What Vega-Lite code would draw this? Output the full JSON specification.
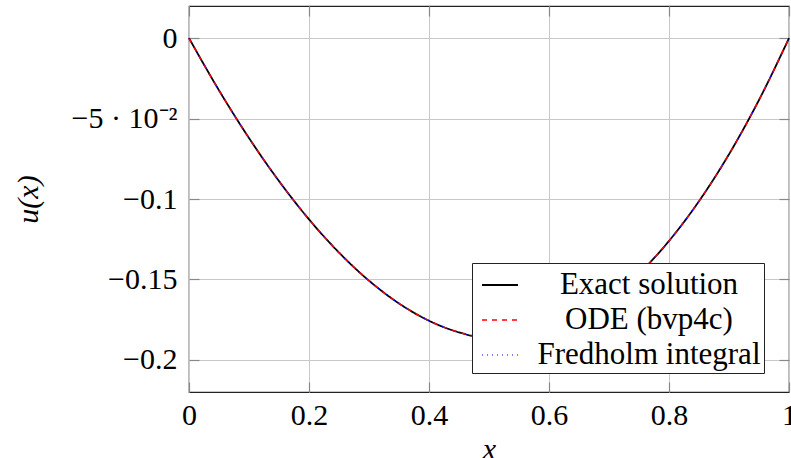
{
  "$schema": "https://vega.github.io/schema/vega-lite/v6.json",
  "width": 600,
  "height": 386,
  "autosize": {"type": "none"},
  "padding": {"left": 189, "top": 6, "right": 2, "bottom": 66},
  "background": "white",
  "config": {
    "view": {"stroke": "#222222", "strokeWidth": 1.2},
    "font": "Liberation Serif"
  },
  "data": {
    "values": [
      {"x": 0, "u": 0, "s": "Exact solution"},
      {"x": 0.05, "u": -0.03244, "s": "Exact solution"},
      {"x": 0.1, "u": -0.0621, "s": "Exact solution"},
      {"x": 0.15, "u": -0.08887, "s": "Exact solution"},
      {"x": 0.2, "u": -0.11264, "s": "Exact solution"},
      {"x": 0.25, "u": -0.13331, "s": "Exact solution"},
      {"x": 0.3, "u": -0.15078, "s": "Exact solution"},
      {"x": 0.35, "u": -0.16494, "s": "Exact solution"},
      {"x": 0.4, "u": -0.17568, "s": "Exact solution"},
      {"x": 0.45, "u": -0.1829, "s": "Exact solution"},
      {"x": 0.5, "u": -0.1865, "s": "Exact solution"},
      {"x": 0.55, "u": -0.18637, "s": "Exact solution"},
      {"x": 0.6, "u": -0.1824, "s": "Exact solution"},
      {"x": 0.65, "u": -0.17449, "s": "Exact solution"},
      {"x": 0.7, "u": -0.16254, "s": "Exact solution"},
      {"x": 0.75, "u": -0.14644, "s": "Exact solution"},
      {"x": 0.8, "u": -0.12608, "s": "Exact solution"},
      {"x": 0.85, "u": -0.10136, "s": "Exact solution"},
      {"x": 0.9, "u": -0.07218, "s": "Exact solution"},
      {"x": 0.95, "u": -0.03843, "s": "Exact solution"},
      {"x": 1, "u": 0, "s": "Exact solution"},
      {"x": 0, "u": 0, "s": "ODE (bvp4c)"},
      {"x": 0.05, "u": -0.03244, "s": "ODE (bvp4c)"},
      {"x": 0.1, "u": -0.0621, "s": "ODE (bvp4c)"},
      {"x": 0.15, "u": -0.08887, "s": "ODE (bvp4c)"},
      {"x": 0.2, "u": -0.11264, "s": "ODE (bvp4c)"},
      {"x": 0.25, "u": -0.13331, "s": "ODE (bvp4c)"},
      {"x": 0.3, "u": -0.15078, "s": "ODE (bvp4c)"},
      {"x": 0.35, "u": -0.16494, "s": "ODE (bvp4c)"},
      {"x": 0.4, "u": -0.17568, "s": "ODE (bvp4c)"},
      {"x": 0.45, "u": -0.1829, "s": "ODE (bvp4c)"},
      {"x": 0.5, "u": -0.1865, "s": "ODE (bvp4c)"},
      {"x": 0.55, "u": -0.18637, "s": "ODE (bvp4c)"},
      {"x": 0.6, "u": -0.1824, "s": "ODE (bvp4c)"},
      {"x": 0.65, "u": -0.17449, "s": "ODE (bvp4c)"},
      {"x": 0.7, "u": -0.16254, "s": "ODE (bvp4c)"},
      {"x": 0.75, "u": -0.14644, "s": "ODE (bvp4c)"},
      {"x": 0.8, "u": -0.12608, "s": "ODE (bvp4c)"},
      {"x": 0.85, "u": -0.10136, "s": "ODE (bvp4c)"},
      {"x": 0.9, "u": -0.07218, "s": "ODE (bvp4c)"},
      {"x": 0.95, "u": -0.03843, "s": "ODE (bvp4c)"},
      {"x": 1, "u": 0, "s": "ODE (bvp4c)"},
      {"x": 0, "u": 0, "s": "Fredholm integral"},
      {"x": 0.05, "u": -0.03244, "s": "Fredholm integral"},
      {"x": 0.1, "u": -0.0621, "s": "Fredholm integral"},
      {"x": 0.15, "u": -0.08887, "s": "Fredholm integral"},
      {"x": 0.2, "u": -0.11264, "s": "Fredholm integral"},
      {"x": 0.25, "u": -0.13331, "s": "Fredholm integral"},
      {"x": 0.3, "u": -0.15078, "s": "Fredholm integral"},
      {"x": 0.35, "u": -0.16494, "s": "Fredholm integral"},
      {"x": 0.4, "u": -0.17568, "s": "Fredholm integral"},
      {"x": 0.45, "u": -0.1829, "s": "Fredholm integral"},
      {"x": 0.5, "u": -0.1865, "s": "Fredholm integral"},
      {"x": 0.55, "u": -0.18637, "s": "Fredholm integral"},
      {"x": 0.6, "u": -0.1824, "s": "Fredholm integral"},
      {"x": 0.65, "u": -0.17449, "s": "Fredholm integral"},
      {"x": 0.7, "u": -0.16254, "s": "Fredholm integral"},
      {"x": 0.75, "u": -0.14644, "s": "Fredholm integral"},
      {"x": 0.8, "u": -0.12608, "s": "Fredholm integral"},
      {"x": 0.85, "u": -0.10136, "s": "Fredholm integral"},
      {"x": 0.9, "u": -0.07218, "s": "Fredholm integral"},
      {"x": 0.95, "u": -0.03843, "s": "Fredholm integral"},
      {"x": 1, "u": 0, "s": "Fredholm integral"}
    ]
  },
  "layer": [
    {
      "mark": {"type": "line", "interpolate": "monotone", "opacity": 0},
      "encoding": {
        "x": {
          "field": "x", "type": "quantitative",
          "scale": {"domain": [0, 1], "nice": false, "zero": false},
          "axis": {"orient": "top", "values": [0, 0.2, 0.4, 0.6, 0.8, 1], "labels": false, "title": null, "grid": false, "domain": false, "tickSize": -10, "tickColor": "#888888", "tickWidth": 1.2}
        },
        "y": {
          "field": "u", "type": "quantitative",
          "scale": {"domain": [-0.22, 0.02], "nice": false, "zero": false},
          "axis": {"orient": "right", "values": [0, -0.05, -0.1, -0.15, -0.2], "labels": false, "title": null, "grid": false, "domain": false, "tickSize": -10, "tickColor": "#888888", "tickWidth": 1.2}
        },
        "detail": {"field": "s"}
      }
    },
    {
      "mark": {"type": "line", "interpolate": "monotone"},
      "encoding": {
        "x": {
          "field": "x", "type": "quantitative",
          "scale": {"domain": [0, 1], "nice": false, "zero": false},
          "axis": {
            "orient": "bottom", "values": [0, 0.2, 0.4, 0.6, 0.8, 1], "format": "~g",
            "title": "x", "titleFontStyle": "italic", "titleFontWeight": "normal", "titleFontSize": 30, "titleColor": "black", "titlePadding": 4,
            "labelFontSize": 30, "labelColor": "black", "labelPadding": 18, "labelFlush": false,
            "grid": true, "gridColor": "#c8c8c8", "gridWidth": 1,
            "domain": false, "tickSize": -10, "tickColor": "#888888", "tickWidth": 1.2
          }
        },
        "y": {
          "field": "u", "type": "quantitative",
          "scale": {"domain": [-0.22, 0.02], "nice": false, "zero": false},
          "axis": {
            "orient": "left", "values": [0, -0.05, -0.1, -0.15, -0.2],
            "labelExpr": "abs(datum.value + 0.05) < 1e-9 ? '−5 · 10⁻²' : replace(format(datum.value, '~g'), '-', '−')",
            "title": "u(x)", "titleFontStyle": "italic", "titleFontWeight": "normal", "titleFontSize": 30, "titleColor": "black", "titlePadding": 28,
            "labelFontSize": 30, "labelColor": "black", "labelPadding": 22, "labelFlush": false,
            "grid": true, "gridColor": "#c8c8c8", "gridWidth": 1,
            "domain": false, "tickSize": -10, "tickColor": "#888888", "tickWidth": 1.2
          }
        },
        "color": {
          "field": "s", "type": "nominal",
          "scale": {"domain": ["Exact solution", "ODE (bvp4c)", "Fredholm integral"], "range": ["#000000", "#ff0000", "#0000ff"]},
          "legend": {
            "title": null, "orient": "none", "legendX": 283, "legendY": 257,
            "direction": "vertical", "strokeColor": "#222222", "fillColor": "white",
            "padding": 3, "symbolOffset": 6, "symbolType": "stroke", "symbolSize": 1296, "symbolStrokeWidth": 1.5,
            "labelFontSize": 31, "labelColor": "black", "labelAlign": "center", "labelOffset": 130,
            "rowPadding": 1, "cornerRadius": 0, "labelLimit": 400
          }
        },
        "strokeDash": {
          "field": "s", "type": "nominal",
          "scale": {"domain": ["Exact solution", "ODE (bvp4c)", "Fredholm integral"], "range": [[1, 0], [5, 5], [1, 4]]},
          "legend": {
            "title": null, "orient": "none", "legendX": 283, "legendY": 257,
            "direction": "vertical", "strokeColor": "#222222", "fillColor": "white",
            "padding": 3, "symbolOffset": 6, "symbolType": "stroke", "symbolSize": 1296, "symbolStrokeWidth": 1.5,
            "labelFontSize": 31, "labelColor": "black", "labelAlign": "center", "labelOffset": 130,
            "rowPadding": 1, "cornerRadius": 0, "labelLimit": 400
          }
        },
        "strokeWidth": {
          "field": "s", "type": "nominal",
          "scale": {"domain": ["Exact solution", "ODE (bvp4c)", "Fredholm integral"], "range": [1.8, 1.1, 1.1]},
          "legend": null
        }
      }
    }
  ],
  "resolve": {"axis": {"x": "independent", "y": "independent"}}
}
